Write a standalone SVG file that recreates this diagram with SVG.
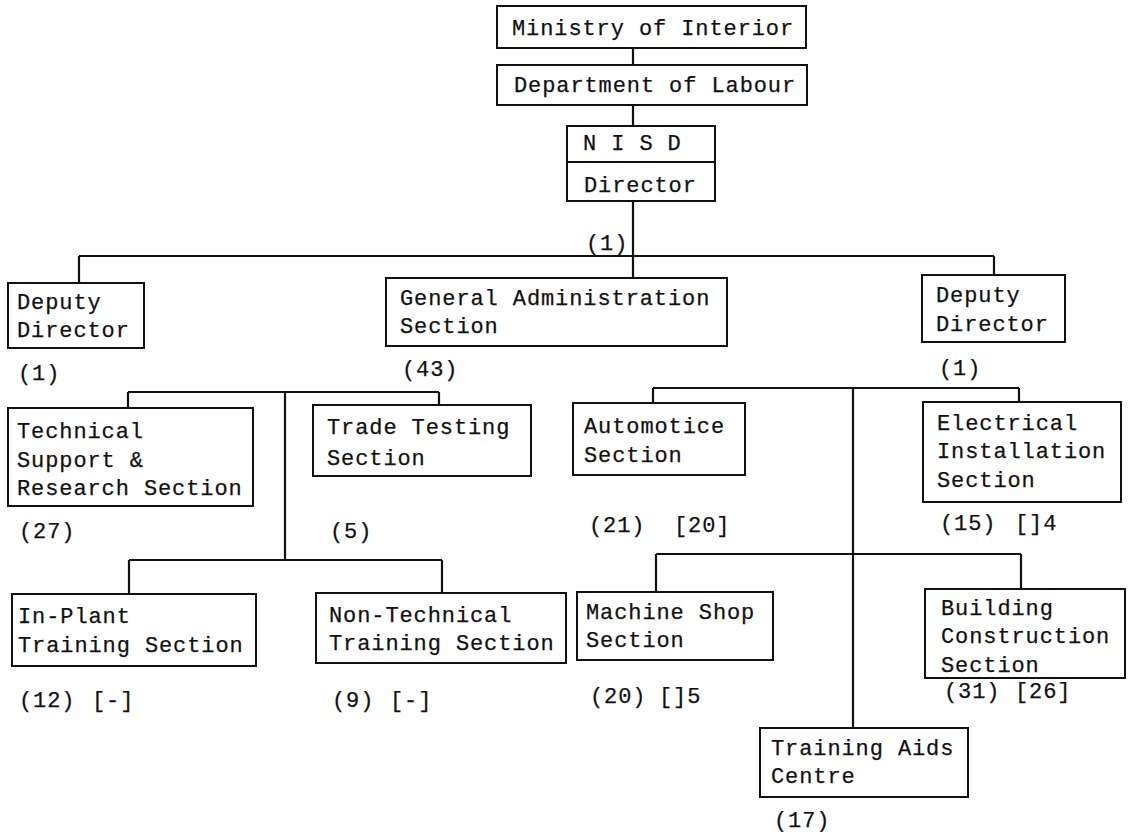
<svg xmlns="http://www.w3.org/2000/svg" width="1128" height="832" viewBox="0 0 1128 832">
<style>
  .box{fill:#fff;stroke:#111;stroke-width:2}
  .ln{fill:none;stroke:#111;stroke-width:2.2}
  text{font-family:"Liberation Mono","DejaVu Sans Mono",monospace;font-size:22px;letter-spacing:0.9px;fill:#111;stroke:#111;stroke-width:0.25}
</style>
<rect width="1128" height="832" fill="#fff"/>
<g id="connectors">
  <path class="ln" d="M633 48V65M633 105V126"/>
  <path class="ln" d="M633 201V278M79 256H994M79 256V283M994 256V275"/>
  <path class="ln" d="M128 392H439M128 392V408M439 392V405M285 392V560M129 560H442M129 560V594M442 560V593"/>
  <path class="ln" d="M653 388H1019M653 388V403M1019 388V402M853 388V728M656 554H1021M656 554V592M1021 554V589"/>
</g>
<g id="ministry">
  <rect class="box" x="497" y="6" width="309" height="42"/>
  <text x="512" y="35">Ministry of Interior</text>
</g>
<g id="department">
  <rect class="box" x="497" y="65" width="310" height="40"/>
  <text x="514" y="92">Department of Labour</text>
</g>
<g id="nisd">
  <rect class="box" x="567" y="126" width="148" height="75"/>
  <line class="ln" x1="567" y1="162" x2="715" y2="162"/>
  <text x="583" y="150">N I S D</text>
  <text x="584" y="192">Director</text>
  <text x="586" y="250">(1)</text>
</g>
<g id="deputy-left">
  <rect class="box" x="8" y="283" width="136" height="65"/>
  <text x="17" y="309">Deputy</text>
  <text x="17" y="337">Director</text>
  <text x="18" y="380">(1)</text>
</g>
<g id="general-admin">
  <rect class="box" x="386" y="278" width="341" height="68"/>
  <text x="400" y="305">General Administration</text>
  <text x="400" y="333">Section</text>
  <text x="402" y="376">(43)</text>
</g>
<g id="deputy-right">
  <rect class="box" x="922" y="275" width="143" height="67"/>
  <text x="936" y="302">Deputy</text>
  <text x="936" y="331">Director</text>
  <text x="939" y="375">(1)</text>
</g>
<g id="tech-support">
  <rect class="box" x="8" y="408" width="245" height="98"/>
  <text x="17" y="438">Technical</text>
  <text x="17" y="467">Support &amp;</text>
  <text x="17" y="495">Research Section</text>
  <text x="19" y="538">(27)</text>
</g>
<g id="trade-testing">
  <rect class="box" x="313" y="405" width="218" height="71"/>
  <text x="327" y="434">Trade Testing</text>
  <text x="327" y="465">Section</text>
  <text x="330" y="538">(5)</text>
</g>
<g id="in-plant">
  <rect class="box" x="12" y="594" width="244" height="72"/>
  <text x="18" y="623">In-Plant</text>
  <text x="18" y="652">Training Section</text>
  <text x="19" y="707">(12)</text>
  <text x="92" y="707">[-]</text>
</g>
<g id="non-technical">
  <rect class="box" x="316" y="593" width="250" height="70"/>
  <text x="329" y="622">Non-Technical</text>
  <text x="329" y="650">Training Section</text>
  <text x="332" y="707">(9)</text>
  <text x="390" y="707">[-]</text>
</g>
<g id="automotice">
  <rect class="box" x="573" y="403" width="172" height="72"/>
  <text x="584" y="433">Automotice</text>
  <text x="584" y="462">Section</text>
  <text x="589" y="532">(21)</text>
  <text x="674" y="532">[20]</text>
</g>
<g id="electrical">
  <rect class="box" x="923" y="402" width="198" height="100"/>
  <text x="937" y="430">Electrical</text>
  <text x="937" y="458">Installation</text>
  <text x="937" y="487">Section</text>
  <text x="940" y="530">(15)</text>
  <text x="1015" y="530">[]4</text>
</g>
<g id="machine-shop">
  <rect class="box" x="577" y="592" width="196" height="68"/>
  <text x="586" y="619">Machine Shop</text>
  <text x="586" y="647">Section</text>
  <text x="590" y="703">(20)</text>
  <text x="659" y="703">[]5</text>
</g>
<g id="building">
  <rect class="box" x="925" y="589" width="200" height="89"/>
  <text x="941" y="615">Building</text>
  <text x="941" y="643">Construction</text>
  <text x="941" y="672">Section</text>
  <text x="944" y="698">(31)</text>
  <text x="1015" y="698">[26]</text>
</g>
<g id="training-aids">
  <rect class="box" x="760" y="728" width="208" height="69"/>
  <text x="771" y="755">Training Aids</text>
  <text x="771" y="783">Centre</text>
  <text x="774" y="827">(17)</text>
</g>
</svg>
